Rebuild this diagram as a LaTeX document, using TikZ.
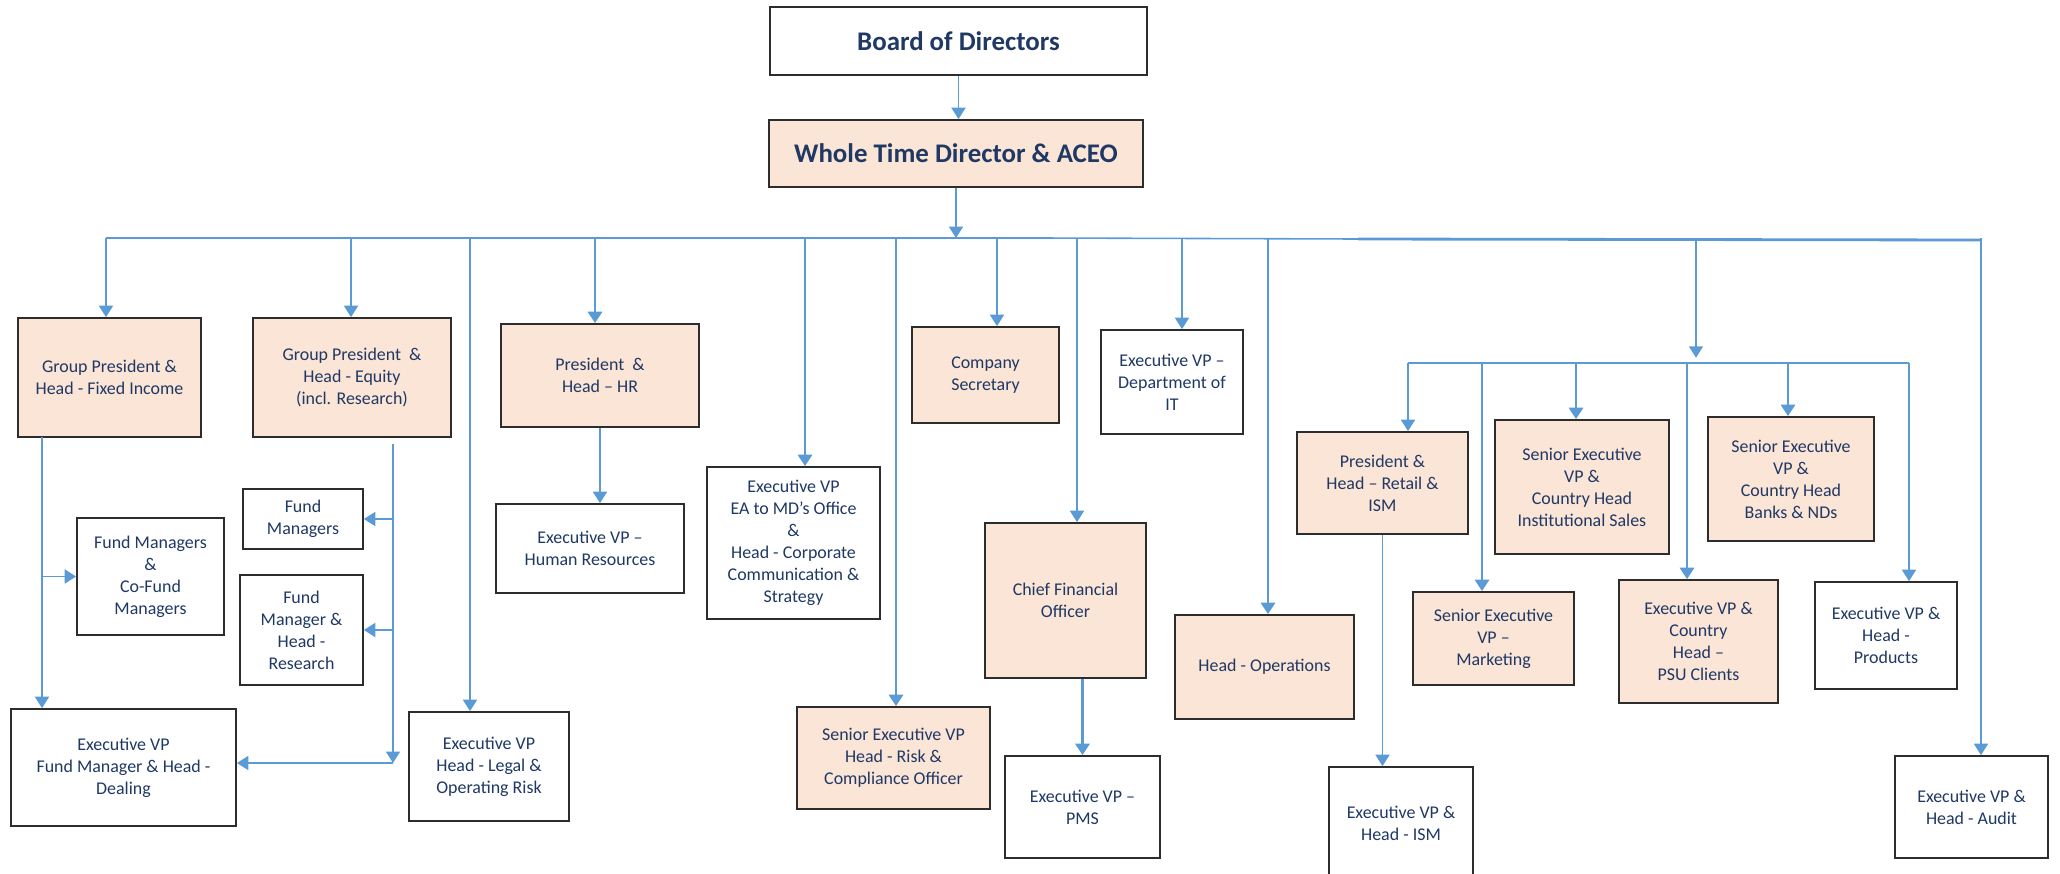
\documentclass[tikz,border=0pt]{standalone}
\usepackage{fontspec}
\setmainfont{Carlito}
\usetikzlibrary{arrows.meta}

\definecolor{peach}{RGB}{251,229,214}
\definecolor{navytext}{RGB}{31,56,100}
\definecolor{linkblue}{RGB}{91,155,213}
\definecolor{boxline}{RGB}{45,45,45}
\def\px{0.02cm}

\tikzset{
  box/.style={draw=boxline, line width=1pt, fill=white, text=navytext,
              align=center, inner sep=0pt,
              font=\fontsize{10.2}{12.5}\selectfont},
  pbox/.style={box, fill=peach},
  titletext/.style={font=\fontsize{15.3}{18}\selectfont\bfseries},
  link/.style={draw=linkblue, line width=0.9pt,
               -{Triangle[length=6.5pt,width=8pt]}},
  link thick/.style={link, line width=1.6pt},
  bus/.style={draw=linkblue, line width=1.6pt},
}

\begin{document}
\begin{tikzpicture}[x=0.02cm, y=-0.02cm]
  \useasboundingbox (0,0) rectangle (2060,873);

  % === Top: board and ACEO ===
  \node[box, titletext, minimum width=377*\px, minimum height=68*\px]
    (board) at (958.5,41) {Board of Directors};
  \node[pbox, titletext, minimum width=374*\px, minimum height=67*\px]
    (aceo) at (956,153.5) {Whole Time Director \& ACEO};

  % === First row under the bus ===
  \node[pbox, minimum width=183*\px, minimum height=119*\px]
    (gpfi) at (109.5,377.5) {Group President \&\\Head - Fixed Income};
  \node[pbox, minimum width=198*\px, minimum height=119*\px]
    (gpeq) at (352,377.5) {Group President \ \&\\Head - Equity\\(incl. Research)};
  \node[pbox, minimum width=198*\px, minimum height=103*\px]
    (preshr) at (600,375.5) {President \ \&\\Head -- HR};
  \node[pbox, minimum width=147*\px, minimum height=96*\px]
    (cosec) at (985.5,375) {Company\\Secretary};
  \node[box, minimum width=142*\px, minimum height=104*\px]
    (it) at (1172,382) {Executive VP --\\Department of\\IT};

  % === Equity / fixed income teams ===
  \node[box, minimum width=120*\px, minimum height=60*\px]
    (fm) at (303,519) {Fund\\Managers};
  \node[box, minimum width=147*\px, minimum height=117*\px]
    (fmco) at (150.5,576.5) {Fund Managers\\\&\\Co-Fund\\Managers};
  \node[box, minimum width=123*\px, minimum height=110*\px]
    (fmhr) at (301.5,630) {Fund\\Manager \&\\Head -\\Research};
  \node[box, minimum width=225*\px, minimum height=117*\px]
    (dealing) at (123.5,767.5) {Executive VP\\Fund Manager \& Head -\\Dealing};
  \node[box, minimum width=160*\px, minimum height=109*\px]
    (legal) at (489,766.5) {Executive VP\\Head - Legal \&\\Operating Risk};

  % === Middle ===
  \node[box, minimum width=188*\px, minimum height=89*\px]
    (evphr) at (590,548.5) {Executive VP --\\Human Resources};
  \node[box, minimum width=173*\px, minimum height=152*\px]
    (ea) at (793.5,543) {Executive VP\\EA to MD's Office\\\&\\Head - Corporate\\Communication \&\\Strategy};
  \node[pbox, minimum width=193*\px, minimum height=102*\px]
    (risk) at (893.5,758) {Senior Executive VP\\Head - Risk \&\\Compliance Officer};
  \node[pbox, minimum width=161*\px, minimum height=155*\px]
    (cfo) at (1065.5,600.5) {Chief Financial\\Officer};
  \node[box, minimum width=155*\px, minimum height=102*\px]
    (pms) at (1082.5,807) {Executive VP --\\PMS};
  \node[pbox, minimum width=179*\px, minimum height=104*\px]
    (ops) at (1264.5,667) {Head - Operations};

  % === Sales group (right) ===
  \node[pbox, minimum width=171*\px, minimum height=102*\px]
    (retail) at (1382.5,483) {President \&\\Head -- Retail \&\\ISM};
  \node[box, minimum width=144*\px, minimum height=113*\px]
    (ism) at (1401,823.5) {Executive VP \&\\Head - ISM};
  \node[pbox, minimum width=161*\px, minimum height=93*\px]
    (mkt) at (1493.5,638.5) {Senior Executive\\VP --\\Marketing};
  \node[pbox, minimum width=174*\px, minimum height=134*\px]
    (inst) at (1582,487) {Senior Executive\\VP \&\\Country Head\\Institutional Sales};
  \node[pbox, minimum width=159*\px, minimum height=123*\px]
    (psu) at (1698.5,641.5) {Executive VP \&\\Country\\Head --\\PSU Clients};
  \node[pbox, minimum width=166*\px, minimum height=124*\px]
    (banks) at (1791,479) {Senior Executive\\VP \&\\Country Head\\Banks \& NDs};
  \node[box, minimum width=142*\px, minimum height=107*\px]
    (prod) at (1886,635.5) {Executive VP \&\\Head -\\Products};
  \node[box, minimum width=153*\px, minimum height=102*\px]
    (audit) at (1971.5,807) {Executive VP \&\\Head - Audit};

  % === Main bus ===
  \coordinate (bl)  at (106,238);
  \coordinate (bm1) at (1043,238);
  \coordinate (bm2) at (1358,239);
  \coordinate (br)  at (1981,240);
  \draw[bus] (bl) -- (bm1);
  \draw[linkblue, line width=0.9pt] (bm1) -- (bm2);
  \draw[bus] (bm2) -- (br);

  \draw[link] (board.south) -- (board.south |- aceo.north);
  \draw[link] (aceo.south) -- (aceo.south |- bl);

  \foreach \x/\n in {106/gpfi, 351/gpeq, 470/legal, 997/cosec,
                     1077/cfo, 1182/it, 1981/audit} {
    \coordinate (d-\n) at (\x,238);
    \draw[link] (d-\n) -- (d-\n |- \n.north);
  }
  \foreach \x/\n in {595/preshr, 805/ea, 896/risk, 1268/ops} {
    \coordinate (d-\n) at (\x,238);
    \draw[link thick] (d-\n) -- (d-\n |- \n.north);
  }

  % === Sub bus for sales ===
  \coordinate (sbl) at (1408,363);
  \coordinate (sbr) at (1909,363);
  \coordinate (d-sub) at (1696,240);
  \draw[bus] (sbl) -- (sbr);
  \draw[link, shorten >=3pt] (d-sub) -- (d-sub |- sbl);
  \foreach \x/\n in {1408/retail, 1909/prod} {
    \coordinate (e-\n) at (\x,363);
    \draw[link] (e-\n) -- (e-\n |- \n.north);
  }
  \foreach \x/\n in {1482/mkt, 1576/inst, 1687/psu, 1788/banks} {
    \coordinate (e-\n) at (\x,363);
    \draw[link thick] (e-\n) -- (e-\n |- \n.north);
  }

  % === Reports below boxes ===
  \draw[link] (preshr.south) -- (preshr.south |- evphr.north);
  \draw[link thick] (cfo.south -| pms.north) -- (pms.north);
  \draw[link] (retail.south) -- (retail.south |- ism.north);

  % fixed income side
  \coordinate (fi-top) at (42,437);
  \draw[link] (fi-top) -- (fi-top |- dealing.north);
  \draw[link] (fi-top |- fmco.west) -- (fmco.west);

  % equity side
  \coordinate (eq-top) at (393,444);
  \coordinate (eq-bot) at (393,763);
  \draw[link] (eq-top) -- (eq-bot);
  \draw[link] (eq-bot) -- (eq-bot -| dealing.east);
  \draw[link] (eq-top |- fm.east) -- (fm.east);
  \draw[link] (eq-top |- fmhr.east) -- (fmhr.east);
\end{tikzpicture}
\end{document}
